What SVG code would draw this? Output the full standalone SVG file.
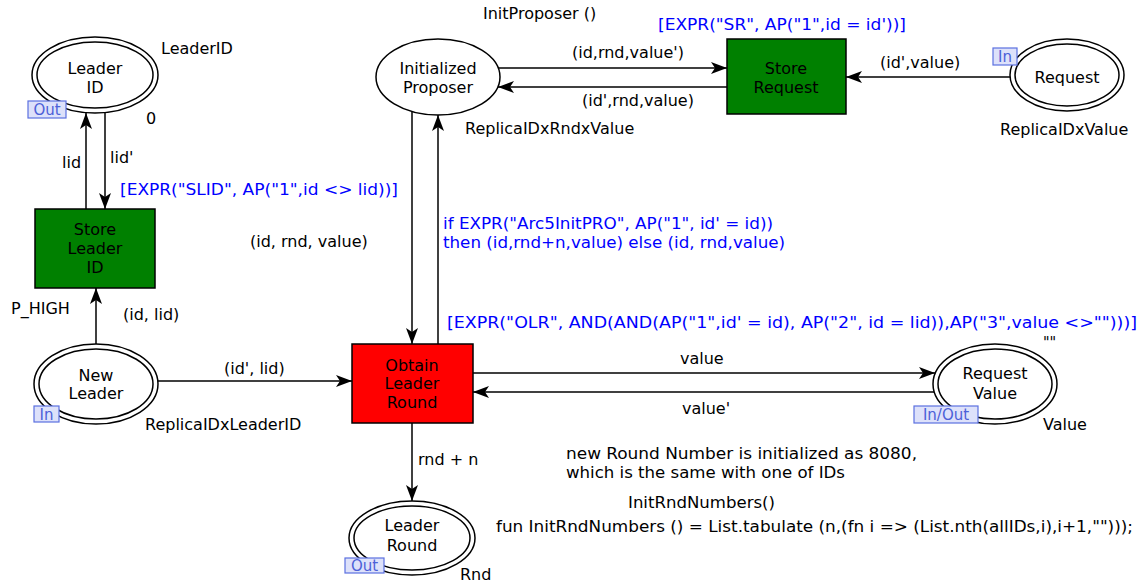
<svg xmlns="http://www.w3.org/2000/svg" width="1139" height="584" viewBox="0 0 1139 584">
  <style>
    text { font-family: "DejaVu Sans", "Liberation Sans", sans-serif; font-size: 16px; fill: #000; }
    .cond { font-stretch: condensed; }
    .blue { fill: #0000ff; }
    .mid { text-anchor: middle; }
    .place { fill: #fff; stroke: #000; stroke-width: 1.5; }
    .trans { stroke: #000; stroke-width: 1.5; }
    .arc { fill: none; stroke: #000; stroke-width: 1.5; marker-end: url(#head); }
    .port rect { fill: #dde1fa; stroke: #5b70e0; stroke-width: 1.2; }
    .port text { fill: #4c60d8; font-size: 15px; }
  </style>
  <defs>
    <marker id="head" viewBox="0 0 16 12" refX="16" refY="6" markerWidth="16" markerHeight="12" markerUnits="userSpaceOnUse" orient="auto">
      <path d="M0,0 L16,6 L0,12 L4,6 z" fill="#000"/>
    </marker>
  </defs>
  <rect width="1139" height="584" fill="#fff"/>

  <!-- arcs -->
  <g id="connectors">
    <line class="arc" x1="86" y1="209" x2="86" y2="113"/>
    <line class="arc" x1="105" y1="112" x2="105" y2="209"/>
    <line class="arc" x1="96" y1="344" x2="96" y2="288"/>
    <line class="arc" x1="158" y1="381" x2="352" y2="381"/>
    <line class="arc" x1="412" y1="112" x2="412" y2="344"/>
    <line class="arc" x1="438" y1="344" x2="438" y2="115"/>
    <line class="arc" x1="498" y1="68" x2="727" y2="68"/>
    <line class="arc" x1="727" y1="87" x2="498" y2="87"/>
    <line class="arc" x1="1010" y1="77" x2="846" y2="77"/>
    <line class="arc" x1="473" y1="373" x2="935" y2="373"/>
    <line class="arc" x1="935" y1="392" x2="473" y2="392"/>
    <line class="arc" x1="412" y1="423" x2="412" y2="501"/>

    <text x="62" y="168">lid</text>
    <text x="110" y="163">lid'</text>
    <text x="123" y="320">(id, lid)</text>
    <text x="224" y="374">(id', lid)</text>
    <text x="250" y="247">(id, rnd, value)</text>
    <text x="443" y="229" class="blue cond" textLength="330" lengthAdjust="spacingAndGlyphs">if EXPR("Arc5InitPRO", AP("1", id' = id))</text>
    <text x="443" y="248" class="blue cond" textLength="342" lengthAdjust="spacingAndGlyphs">then (id,rnd+n,value) else (id, rnd,value)</text>
    <text x="572" y="58">(id,rnd,value')</text>
    <text x="582" y="106">(id',rnd,value)</text>
    <text x="880" y="68">(id',value)</text>
    <text x="680" y="364">value</text>
    <text x="682" y="414">value'</text>
    <text x="418" y="465">rnd + n</text>
  </g>

  <!-- places -->
  <g id="place-leader-id">
    <ellipse class="place" cx="95" cy="75" rx="63" ry="38"/>
    <ellipse class="place" cx="95" cy="75" rx="58" ry="33"/>
    <text x="95" y="74" class="mid">Leader</text>
    <text x="95" y="93" class="mid">ID</text>
    <text x="161" y="54">LeaderID</text>
    <text x="146" y="124">0</text>
    <g class="port"><rect x="28" y="101" width="38" height="17"/><text x="47" y="115" class="mid">Out</text></g>
  </g>

  <g id="place-new-leader">
    <ellipse class="place" cx="96" cy="384" rx="62" ry="40"/>
    <ellipse class="place" cx="96" cy="384" rx="57" ry="35"/>
    <text x="96" y="381" class="mid">New</text>
    <text x="96" y="399" class="mid">Leader</text>
    <text x="145" y="430">ReplicaIDxLeaderID</text>
    <g class="port"><rect x="34" y="406" width="25" height="16"/><text x="46.5" y="419.5" class="mid">In</text></g>
  </g>

  <g id="place-initialized-proposer">
    <ellipse class="place" cx="438" cy="77" rx="62" ry="38"/>
    <text x="438" y="74" class="mid">Initialized</text>
    <text x="438" y="93" class="mid">Proposer</text>
    <text x="483" y="19">InitProposer ()</text>
    <text x="465" y="134">ReplicaIDxRndxValue</text>
  </g>

  <g id="place-request">
    <ellipse class="place" cx="1067" cy="75" rx="57" ry="36"/>
    <ellipse class="place" cx="1067" cy="75" rx="52" ry="31"/>
    <text x="1067" y="83" class="mid">Request</text>
    <text x="1000" y="135">ReplicaIDxValue</text>
    <g class="port"><rect x="993" y="48" width="24" height="17"/><text x="1005" y="62" class="mid">In</text></g>
  </g>

  <g id="place-request-value">
    <ellipse class="place" cx="995" cy="384" rx="62" ry="40"/>
    <ellipse class="place" cx="995" cy="384" rx="57" ry="35"/>
    <text x="995" y="379" class="mid">Request</text>
    <text x="995" y="399" class="mid">Value</text>
    <text x="1043" y="430">Value</text>
    <text x="1043" y="348" class="cond">""</text>
    <g class="port"><rect x="914" y="406" width="64" height="17"/><text x="946" y="420" class="mid">In/Out</text></g>
  </g>

  <g id="place-leader-round">
    <ellipse class="place" cx="412" cy="538" rx="63" ry="37"/>
    <ellipse class="place" cx="412" cy="538" rx="58" ry="32"/>
    <text x="412" y="531" class="mid">Leader</text>
    <text x="412" y="551" class="mid">Round</text>
    <text x="460" y="580">Rnd</text>
    <g class="port"><rect x="345" y="558" width="39" height="15"/><text x="364.5" y="571" class="mid">Out</text></g>
  </g>

  <!-- transitions -->
  <g id="trans-store-leader-id">
    <rect class="trans" x="35" y="209" width="120" height="79" fill="#008000"/>
    <text x="95" y="235" class="mid">Store</text>
    <text x="95" y="254" class="mid">Leader</text>
    <text x="95" y="273" class="mid">ID</text>
    <text x="11" y="314">P_HIGH</text>
    <text x="120" y="195" class="blue" textLength="278" lengthAdjust="spacingAndGlyphs">[EXPR("SLID", AP("1",id &lt;&gt; lid))]</text>
  </g>

  <g id="trans-store-request">
    <rect class="trans" x="727" y="39" width="119" height="75" fill="#008000"/>
    <text x="786" y="74" class="mid">Store</text>
    <text x="786" y="93" class="mid">Request</text>
    <text x="658" y="30" class="blue" textLength="248" lengthAdjust="spacingAndGlyphs">[EXPR("SR", AP("1",id = id'))]</text>
  </g>

  <g id="trans-obtain-leader-round">
    <rect class="trans" x="352" y="344" width="121" height="79" fill="#ff0000"/>
    <text x="412" y="371" class="mid">Obtain</text>
    <text x="412" y="389" class="mid">Leader</text>
    <text x="412" y="408" class="mid">Round</text>
    <text x="447" y="328" class="blue cond" textLength="690" lengthAdjust="spacingAndGlyphs">[EXPR("OLR", AND(AND(AP("1",id' = id), AP("2", id = lid)),AP("3",value &lt;&gt;"")))]</text>
  </g>

  <!-- declarations -->
  <g id="notes">
    <text x="566" y="459" class="cond" textLength="351" lengthAdjust="spacingAndGlyphs">new Round Number is initialized as 8080,</text>
    <text x="566" y="478" class="cond" textLength="279" lengthAdjust="spacingAndGlyphs">which is the same with one of IDs</text>
    <text x="628" y="508" class="cond" textLength="147" lengthAdjust="spacingAndGlyphs">InitRndNumbers()</text>
    <text x="496" y="532" class="cond" textLength="637" lengthAdjust="spacingAndGlyphs">fun InitRndNumbers () = List.tabulate (n,(fn i =&gt; (List.nth(allIDs,i),i+1,"")));</text>
  </g>
</svg>
